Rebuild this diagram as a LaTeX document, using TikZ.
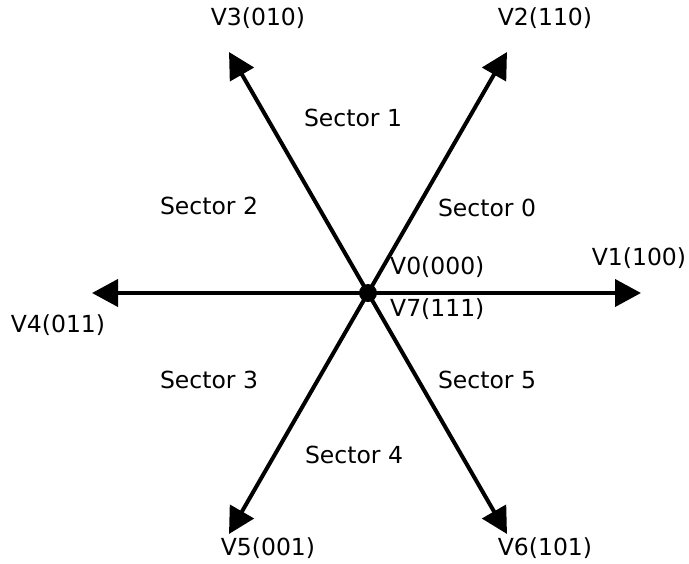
\documentclass[tikz,border=0pt]{standalone}
\usepackage{fontspec}
\setmainfont{DejaVu Sans}
\usetikzlibrary{arrows.meta}
\begin{document}
\begin{tikzpicture}[x=1pt,y=-1pt,
  vec/.style={line width=4pt,-{Triangle[length=26pt,width=27pt]}},
  lbl/.style={font=\fontsize{23.5}{27}\selectfont,inner sep=0pt}]
\useasboundingbox (0,0) rectangle (689,563);
\coordinate (o) at (368,293);
\coordinate (v1) at (641,293);
\coordinate (v4) at (92,293);
\coordinate (v2) at (507,52);
\coordinate (v3) at (229,52);
\coordinate (v5) at (229,534);
\coordinate (v6) at (507,534);
\foreach \t in {v1,v2,v3,v4,v5,v6} \draw[vec] (o) -- (\t);
\fill (o) circle[radius=9pt];
\node[lbl] (l3) at (258,18) {V3(010)};
\node[lbl] (l2) at (545,18) {V2(110)};
\node[lbl] (l1) at (639,258) {V1(100)};
\node[lbl] (l4) at (58,325) {V4(011)};
\node[lbl] (l5) at (268,548) {V5(001)};
\node[lbl] (l6) at (545,548) {V6(101)};
\node[lbl,anchor=west] (l0) at (390,267) {V0(000)};
\node[lbl,anchor=west] (l7) at (390,309) {V7(111)};
\node[lbl] (s1) at (353,118) {Sector 1};
\node[lbl] (s0) at (487,208) {Sector 0};
\node[lbl] (s2) at (209,206) {Sector 2};
\node[lbl] (s3) at (209,380) {Sector 3};
\node[lbl] (s5) at (487,380) {Sector 5};
\node[lbl] (s4) at (354,455) {Sector 4};
\end{tikzpicture}
\end{document}
